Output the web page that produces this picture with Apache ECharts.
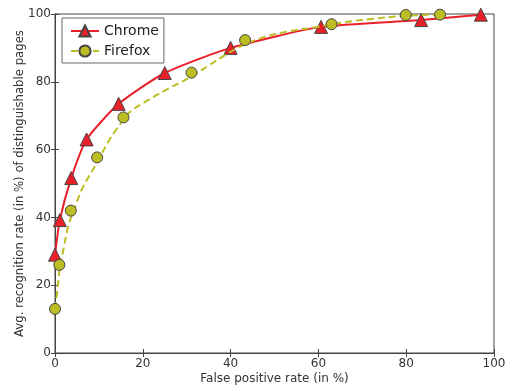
<!DOCTYPE html>
<html>
<head>
<meta charset="utf-8">
<script src="https://cdn.jsdelivr.net/npm/echarts@6/dist/echarts.min.js"></script>
<style>
  html, body { margin: 0; padding: 0; background: #fff; }
  #chart { width: 510px; height: 385px; }
</style>
</head>
<body>
<div id="chart"></div>
<script>
// measured points
var chromeX = [0, 1.1, 3.7, 7.2, 14.5, 25, 40, 60.6, 83.4, 97];
var chromeY = [29, 39.2, 51.6, 63, 73.5, 82.6, 90, 96.2, 98.2, 99.8];

var firefoxX = [0, 1, 3.6, 9.6, 15.6, 31.1, 43.3, 63, 79.9, 87.7];
var firefoxY = [13, 26, 42, 57.7, 69.5, 82.7, 92.3, 97, 99.7, 99.8];

// dashed firefox curve
var curveX = [0, 0.5, 1.2, 2, 3, 4.6, 6.4, 9.5, 12, 14, 17, 21.5, 26, 31, 35, 38, 41.5, 45, 50, 55, 59, 65.5, 72, 80, 88];
var curveY = [13, 18, 26, 31, 37.3, 43.2, 49, 56, 62, 66, 71, 74.8, 78.1, 81.5, 84.8, 87.3, 89.9, 92, 94, 95.3, 96, 97.5, 98.5, 99.5, 99.8];

var ticks = [0, 20, 40, 60, 80, 100];

function pairs(xs, ys) {
  var out = [];
  for (var i = 0; i < xs.length; i++) out.push([xs[i], ys[i]]);
  return out;
}

var font = 'DejaVu Sans';
var axisCol = '#444';

var chart = echarts.init(document.getElementById('chart'), null, { renderer: 'canvas' });

var option = {
  animation: false,
  textStyle: { fontFamily: font },
  grid: {
    left: 55, right: 16, top: 14, bottom: 32,
    outerBoundsMode: 'none', containLabel: false,
    show: true, borderColor: axisCol, borderWidth: 1
  },
  legend: {
    left: 62, top: 18,
    orient: 'vertical',
    data: ['Chrome', 'Firefox'],
    itemWidth: 28, itemHeight: 14, itemGap: 6,
    padding: [6, 5, 5, 8],
    backgroundColor: '#fff',
    borderColor: '#666', borderWidth: 1, borderRadius: 0,
    textStyle: { fontFamily: font, fontSize: 14, color: '#222' }
  },
  xAxis: [{
    type: 'value', min: 0, max: 100, interval: 20,
    name: 'False positive rate (in %)',
    nameLocation: 'middle', nameGap: 20, nameMoveOverlap: false,
    nameTextStyle: { fontFamily: font, fontSize: 12, color: '#333' },
    axisLine: { show: true, lineStyle: { color: axisCol } },
    axisTick: { inside: true, length: 4, lineStyle: { color: axisCol } },
    axisLabel: { fontFamily: font, fontSize: 12, color: '#333', margin: 5 },
    splitLine: { show: false }
  }, {
    type: 'value', min: 0, max: 100, interval: 20, position: 'top',
    axisLine: { show: true, lineStyle: { color: axisCol } },
    axisTick: { inside: true, length: 4, lineStyle: { color: axisCol } },
    axisLabel: { show: false },
    splitLine: { show: false }
  }],
  yAxis: [{
    type: 'value', min: 0, max: 100, interval: 20,
    name: 'Avg. recognition rate (in %) of distinguishable pages',
    nameLocation: 'middle', nameGap: 29, nameMoveOverlap: false,
    nameTextStyle: { fontFamily: font, fontSize: 11.7, color: '#333' },
    axisLine: { show: true, lineStyle: { color: axisCol } },
    axisTick: { inside: true, length: 4, lineStyle: { color: axisCol } },
    axisLabel: { fontFamily: font, fontSize: 12, color: '#333', margin: 4 },
    splitLine: { show: false }
  }, {
    type: 'value', min: 0, max: 100, interval: 20, position: 'right',
    axisLine: { show: true, lineStyle: { color: axisCol } },
    axisTick: { inside: true, length: 4, lineStyle: { color: axisCol } },
    axisLabel: { show: false },
    splitLine: { show: false }
  }],
  series: [{
    name: 'Chrome',
    type: 'line',
    data: pairs(chromeX, chromeY),
    smooth: 0.2,
    symbol: 'triangle',
    symbolSize: 13,
    clip: false,
    z: 3,
    lineStyle: { color: '#e8202a', width: 2 },
    itemStyle: { color: '#e8202a', borderColor: '#444', borderWidth: 1 }
  }, {
    name: 'Firefox',
    type: 'line',
    data: pairs(curveX, curveY),
    smooth: 0.4,
    showSymbol: false,
    symbol: 'circle',
    symbolSize: 11,
    z: 4,
    lineStyle: { color: '#bcbd22', width: 2, type: [7, 4] },
    itemStyle: { color: '#bcbd22', borderColor: '#444', borderWidth: 1 }
  }, {
    name: 'Firefox',
    type: 'scatter',
    data: pairs(firefoxX, firefoxY),
    symbol: 'circle',
    symbolSize: 11,
    z: 5,
    itemStyle: { color: '#bcbd22', borderColor: '#444', borderWidth: 1, opacity: 1 }
  }]
};

chart.setOption(option);
</script>
</body>
</html>
